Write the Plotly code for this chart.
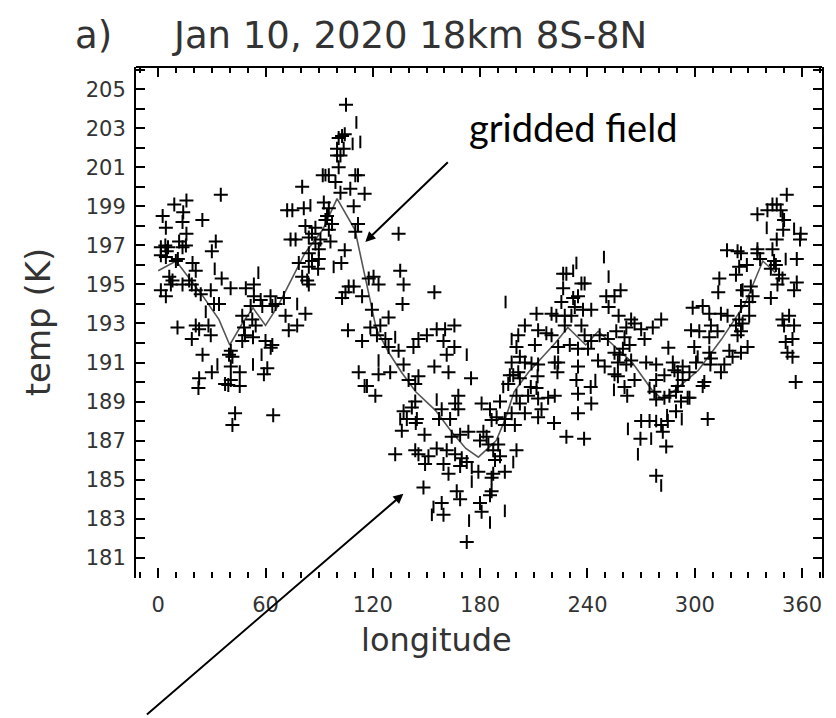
import plotly.graph_objects as go

# ---------------- data ----------------
title_left = "a)"
title_main = "Jan 10, 2020 18km 8S-8N"
x_title = "longitude"
y_title = "temp (K)"
note_text = "gridded field"

x_ticks = [0, 60, 120, 180, 240, 300, 360]
y_ticks = list(range(181, 206, 2))

# gridded field (line)
grid_lon = [0, 10, 25, 34, 40, 47, 53, 60, 67, 73, 82, 92, 100, 110, 116, 122, 129, 136, 144,
            155, 164, 172, 179, 189, 194, 199, 207, 214, 222, 229, 239, 246, 265, 276, 282,
            289, 302, 315, 328, 338, 345]
grid_temp = [195.7, 196.2, 194.4, 193.2, 191.9, 193.0, 193.8, 192.9, 193.9, 195.0, 196.6, 197.8,
             199.4, 197.8, 195.2, 192.7, 191.5, 190.5, 189.5, 188.55, 187.45, 186.6, 186.15,
             187.0, 188.1, 189.5, 190.5, 191.2, 192.0, 192.8, 191.9, 192.6, 191.0, 189.6, 189.1,
             189.6, 190.6, 192.2, 194.0, 196.2, 195.6]

# observations drawn as "+"
plus_points = [
    (2.5,198.5),(4.3,197.9),(9,199.1),(15.8,199.3),(14,198.7),(13.6,198.2),(15.8,197.6),(24.7,198.3),
    (35,199.6),(1.5,196.9),(4,197.0),(5.5,196.9),(4.8,196.7),(11.7,197.2),(13.6,196.9),(15.5,197.0),
    (4.3,196.4),(9.9,196.2),(11,196.3),(1.5,196.5),(19.2,196.1),(21,195.7),(32.2,197.2),(30,196.7),
    (35.5,195.3),(6.2,195.4),(8,195.2),(7.1,195.0),(1.5,194.7),(4.3,194.4),(13.6,195.0),(17.3,195.2),
    (18.8,195.0),(21,194.7),(23.8,194.5),(29.4,194.7),(31.2,194.0),(34,194.0),(40.5,194.8),(47,193.4),
    (49,194.8),(53.5,195.0),(53.5,194.4),(51.7,193.9),(57.3,194.2),(58.2,193.9),(62.8,194.4),
    (63.8,193.9),(65.6,194.0),(70.3,194.3),(71.2,193.4),(82.3,193.5),(52.6,193.2),
    (72.1,198.8),(75,198.8),(80.5,200.0),(81.4,198.9),(92.6,199.2),(95.4,198.9),(94.4,198.5),
    (93.5,198.3),(82.3,198.0),(87.9,197.9),(86,197.6),(74,197.3),(76.8,197.3),(84.2,197.4),
    (87.9,197.1),(90.7,197.3),(89.8,196.8),(84.2,196.6),(86,196.2),(89.8,196.3),(78.6,196.1),
    (84.2,195.9),(89.4,195.8),(80.5,195.4),(83.3,195.2),(84.2,195.0),(95.4,197.8),(96.3,197.2),
    (97.2,198.1),(95.4,200.6),(92,200.6),(99.1,200.25),(100.9,201.0),(100,201.95),(100.9,202.5),
    (102.8,202.6),(104.3,202.7),(101.9,201.6),(100,201.6),(103.7,201.95),(105,204.2),(110.2,200.6),
    (111.7,200.6),(107.4,199.9),(101.9,199.7),(109.3,199.0),(111.7,198.1),(110.2,197.7),
    (104.3,196.75),(102.4,196.1),(106.5,194.9),(109.3,194.9),(104.7,194.6),(102.8,194.3),(114,194.4),
    (115.4,199.65),
    (134.4,197.6),(135.3,195.7),(137.2,195.0),(136.6,194.0),(117.7,195.3),(120.4,195.4),(123.2,195.0),
    (119.5,193.7),(128.8,193.3),(154.4,194.6),(226.4,195.55),(228.2,195.55),(236.6,195.05),
    (238.4,195.05),(226.4,194.8),(225.4,194.1),(232,194.3),(234.7,194.4),(232.9,193.85),(237.5,193.7),
    (211.5,193.5),(219.9,193.5),(222.6,193.4),(227.3,193.4),(231,193.4),(242.1,193.7),
    (250.5,194.4),(255.1,194.4),(258.5,194.7),(251.8,193.85),(257.4,193.4),(264.4,193.2),(281.2,193.2),
    (298.8,193.8),(304.4,193.9),(308.1,193.5),(314.6,193.5),(318.3,193.4),(324.8,193.2),(325.8,193.9),
    (330.4,193.4),(313.7,195.3),(313.1,194.6),(318,196.75),(323.9,196.7),(325.8,196.6),(323,195.5),
    (324.8,195.9),(329.1,196.0),(326.7,194.7),(331.3,194.9),(332.3,194.4),(330.4,194.1),(335,196.8),
    (335,196.6),(336.5,196.3),(335,198.6),(340.6,198.8),(343.4,199.1),(345.8,199.1),(348,198.8),
    (349.4,197.8),(349.9,198.3),(351.4,199.6),(345.8,197.3),(343.4,196.8),(344.3,196.2),(342.5,195.8),
    (345.3,196.0),(347.1,195.5),(349,195.3),(346.2,195.0),(342.5,194.3),(359.2,197.6),(358.8,197.3),
    (357,196.3),(357,195.1),(355.5,194.7),(349,193.2),(352.7,193.4),
    (10.8,192.8),(21,192.9),(22.9,192.7),(28.1,192.9),(29.4,192.4),(18.8,192.2),(24.8,191.4),(30,190.5),
    (22.9,190.2),(22.5,189.7),(40.6,191.6),(39.6,191.4),(41.5,191.3),(40.6,190.8),(40.6,190.1),
    (37.4,189.9),(39.2,189.85),(45.6,190.5),(45.6,189.8),(43,188.4),(41.5,187.8),(64.3,188.3),
    (47,192.1),(48.5,192.4),(48,192.8),(53,192.3),(54.5,192.9),(60,192.1),(62.9,191.75),(59.1,190.4),
    (61,190.7),(63.8,191.9),(73,192.65),(77.7,192.9),(106.1,192.65),(114,192.1),(112.1,190.5),
    (115.4,189.8),
    (118.6,192.8),(124.2,192.9),(122.3,192.4),(127,192.2),(128.8,191.8),(123.2,190.4),(129.7,190.5),
    (116.7,189.8),(121.4,189.3),(134.4,191.6),(137.2,190.9),(140,190.1),(143.7,189.9),(145.5,190.3),
    (142.7,191.8),(145.5,192.2),(150.2,192.4),(155.7,192.7),(160.4,192.7),(165.6,192.9),(159.5,192.1),
    (161.3,191.4),(165.6,191.8),(154.4,190.8),(162.3,190.5),(174.9,190.2),(143.7,189.0),(141.8,188.7),
    (137.2,188.5),(139,188.1),(136.2,187.5),(144.6,188.1),(144,187.9),(148.9,187.3),(158.5,188.6),
    (157,188.1),(163.2,188.1),(167.8,189.3),(166,188.9),(167.8,188.6),(164.1,187.2),(168.8,187.3),
    (173.4,187.45),(179.9,187.0),(181.8,187.45),(183.6,187.2),(180.8,188.9),(185.5,188.6),
    (186.4,188.05),(189.2,188.2),(191.1,189.0),(193.8,188.1),(193.8,187.8),(199.4,187.8),(190.1,186.8),
    (187.3,186.5),(191.1,186.2),(188.3,186.0),(184.6,186.8),(200.3,186.5),(193.8,185.4),(187.3,185.3),
    (186.4,185.1),(179,185.4),(172.5,185.9),(168.8,185.7),(169.7,186.1),(166,186.3),(161.3,186.5),
    (159.5,185.8),(162.3,185.3),(155.7,186.6),(151.1,186.2),(149.2,185.8),(145.5,186.3),(143.7,186.5),
    (132.5,186.3),(148.3,184.6),(166.9,184.4),(168.8,184.0),(186.4,184.4),(185.5,184.2),(158.5,183.8),
    (159.5,183.2),(179.9,183.8),(180.8,183.35),(172.5,181.8),
    (228.2,187.2),(238.1,187.1),(221.3,187.9),(212.4,188.2),(214.3,188.6),(205,188.4),(212.4,189.15),
    (211.5,189.7),(206.8,189.3),(208.3,189.75),(202.2,188.9),(197.6,188.4),(200.3,189.3),(195.7,189.9),
    (198.5,190.35),(202.2,190.2),(201.3,190.5),(196.6,190.35),(197.6,191.0),(205,191.0),(208.7,190.95),
    (212.1,190.3),(212.4,190.9),(218,189.2),(221.7,189.3),(221.7,191.0),(223.6,191.0),(223.2,190.5),
    (210.6,191.9),(219.9,192.4),(223.6,191.8),(230.1,191.9),(234.7,191.7),(234.7,190.8),(233.8,190.1),
    (234.7,189.4),(241.8,189.75),(242.1,188.9),(234.7,188.4),(200.3,191.8),(202.2,191.3),(201.3,192.4),
    (205,192.9),(212.4,192.65),(217,192.5),(227.3,192.9),(236.6,192.9),(238.4,192.4),(240.3,191.7),
    (242.1,192.1),
    (246.8,192.4),(251.4,192.2),(256.1,192.6),(261.7,192.8),(266.3,193.0),(260.7,192.3),(263.5,191.9),
    (259.8,191.7),(255.1,191.5),(257.9,191.4),(257,191.0),(261.7,190.9),(264.4,191.1),(245.9,191.1),
    (249.6,190.8),(255.1,190.4),(257,190.3),(260.7,189.75),(262.2,189.3),(266.3,190.1),(272.8,191.0),
    (270,192.7),(271.9,192.2),(276.5,192.8),(285.2,191.75),(278.4,190.9),(283,190.35),(278.4,190.1),
    (277.4,189.5),(278.4,189.1),(283,189.2),(285.8,189.3),(287.7,191.0),(288.6,190.6),(290.5,190.5),
    (293.2,190.8),(293.2,190.1),(290.5,189.8),(289.5,189.5),(292.3,189.0),(297,189.2),(300.7,191.0),
    (297,190.5),(299.7,191.8),(297.9,192.65),(302.5,192.6),(308.1,192.3),(309,192.9),(312.7,192.6),
    (308.1,191.5),(309,191.2),(308.7,190.9),(314.6,190.5),(316.5,190.9),(319.3,191.6),(321.1,191.3),
    (325.8,191.5),(329.5,191.8),(323.9,192.4),(323,192.9),(325.8,192.6),(326.7,193.0),(305.3,190.0),
    (304.4,189.8),(307.2,188.1),(296,189.2),(289.5,188.5),(284.9,188.0),(281.2,187.8),(274.7,188.0),
    (270,188.0),(269.6,187.1),(282.1,187.45),(284,186.7),(278.4,185.2),(349.9,192.9),(355.5,192.9),
    (350.8,192.05),(354.6,192.2),(351.8,191.5),(354.6,191.3),(356.4,190.0),
]

# observations that print as thin vertical strokes
bar_points = [
    (31.6,195.8),(26.6,193.6),(56,195.6),(77.7,194.0),(85.1,199.05),(93.5,200.6),(110.8,203.3),
    (108.7,202.2),(113,202.3),(98.1,195.9),(194.2,194.1),(233.8,196.1),(232,195.7),(249.2,196.4),
    (251.8,195.4),(325.8,194.7),(349,198.5),(340.2,197.9),(355.5,197.85),(350.8,196.3),(33.1,190.9),
    (57.8,191.4),(53,190.9),(132.5,192.3),(123.2,191.1),(172.5,191.4),(155.7,189.1),(135.3,188.1),
    (198.5,185.9),(175.3,185.6),(175.3,184.9),(153.9,183.6),(153,183.2),(193.8,183.4),(173.8,182.9),
    (185.5,182.8),(192.9,189.75),(197.6,192.2),(301.6,191.3),(244.4,190.1),(254.8,189.6),(274.7,189.7),
    (284.5,188.3),(292.7,188.1),(278.4,188.0),(262.6,187.6),(275.6,187.1),(268.2,186.3),(281.2,184.7),
]

plus_lon = [p[0] for p in plus_points]
plus_temp = [p[1] for p in plus_points]
bar_lon = [p[0] for p in bar_points]
bar_temp = [p[1] for p in bar_points]

# ---------------- figure ----------------
fig = go.Figure()
fig.add_trace(go.Scatter(x=grid_lon, y=grid_temp, mode="lines",
                         line=dict(color="#555555", width=1.6), hoverinfo="skip"))
fig.add_trace(go.Scatter(x=plus_lon, y=plus_temp, mode="markers",
                         marker=dict(symbol="cross-thin", size=10, color="black",
                                     line=dict(color="black", width=2))))
fig.add_trace(go.Scatter(x=bar_lon, y=bar_temp, mode="markers",
                         marker=dict(symbol="line-ns", size=9, color="black",
                                     line=dict(color="black", width=2))))

txt = "#333333"
fig.update_layout(
    width=836, height=718,
    margin=dict(l=136, r=12, t=67, b=140),
    plot_bgcolor="white", paper_bgcolor="white",
    showlegend=False,
    font=dict(family="DejaVu Sans", color=txt, size=21),
)
fig.update_xaxes(
    range=[-12.4, 371.1], tickmode="linear", tick0=x_ticks[0], dtick=x_ticks[1] - x_ticks[0],
    ticks="inside", ticklen=10, tickwidth=2, tickcolor="black",
    showline=False, mirror="ticks", showgrid=False, zeroline=False,
    ticklabelstandoff=12, tickfont=dict(family="DejaVu Sans", size=21, color=txt),
    minor=dict(tick0=0, dtick=10, ticks="inside", ticklen=6, tickwidth=2,
               tickcolor="black", showgrid=False),
)
fig.update_yaxes(
    range=[179.96, 206.14], tickmode="linear", tick0=y_ticks[0], dtick=y_ticks[1] - y_ticks[0],
    ticks="inside", ticklen=9, tickwidth=2, tickcolor="black",
    showline=True, linewidth=2, linecolor="black", mirror="ticks",
    showgrid=False, zeroline=False, ticklabelstandoff=4,
    tickfont=dict(family="DejaVu Sans", size=21, color=txt),
    minor=dict(tick0=180, dtick=1, ticks="inside", ticklen=9, tickwidth=2,
               tickcolor="black", showgrid=False),
)

# top frame line
fig.add_shape(type="line", xref="paper", yref="paper", x0=0, x1=1, y0=1, y1=1,
              line=dict(color="black", width=2))

annos = [
    dict(text=title_left, xref="paper", yref="paper", x=-0.0916, y=1.0626,
         xanchor="left", yanchor="middle", showarrow=False,
         font=dict(family="DejaVu Sans", size=37, color=txt)),
    dict(text=title_main, xref="paper", yref="paper", x=0.0494, y=1.0626,
         xanchor="left", yanchor="middle", showarrow=False,
         font=dict(family="DejaVu Sans", size=37, color=txt)),
    dict(text=x_title, xref="paper", yref="paper", x=0.4375, y=-0.1213,
         xanchor="center", yanchor="middle", showarrow=False,
         font=dict(family="DejaVu Sans", size=32, color=txt)),
    dict(text=y_title, xref="paper", yref="paper", x=-0.1424, y=0.501, textangle=-90,
         xanchor="center", yanchor="middle", showarrow=False,
         font=dict(family="DejaVu Sans", size=34, color=txt)),
    dict(text=note_text, xref="paper", yref="paper", x=0.4826, y=0.8826,
         xanchor="left", yanchor="middle", showarrow=False,
         font=dict(family="Lato", size=38, color="black")),
    dict(text="", x=115.8, y=197.18, xref="x", yref="y", ax=84, ay=-81,
         showarrow=True, arrowhead=2, arrowsize=1, arrowwidth=2, arrowcolor="black", standoff=0),
    dict(text="", x=137.1, y=184.28, xref="x", yref="y", ax=-258, ay=222,
         showarrow=True, arrowhead=2, arrowsize=1, arrowwidth=2, arrowcolor="black", standoff=0),
]
fig.update_layout(annotations=annos)

fig.write_html("out.html")
